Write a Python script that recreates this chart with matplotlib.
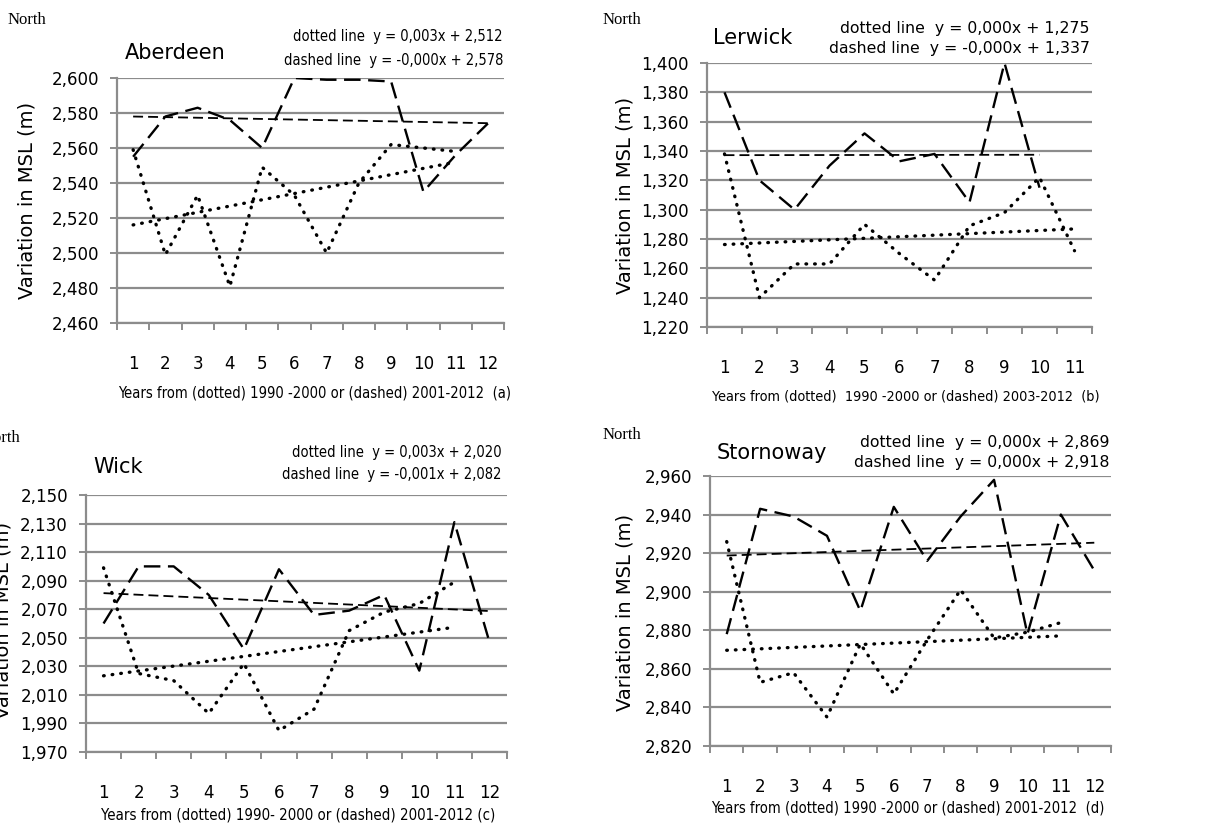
import matplotlib
matplotlib.use("Agg")
import matplotlib.pyplot as plt
import numpy as np

plt.rcParams['font.family'] = ['DejaVu Sans']

# Aberdeen (a)
abd_dotted = [2.559, 2.499, 2.533, 2.481, 2.549, 2.533, 2.500, 2.540, 2.562, 2.560, 2.558]
abd_dashed = [2.555, 2.578, 2.583, 2.576, 2.560, 2.600, 2.599, 2.599, 2.598, 2.535, 2.556, 2.574]
abd_ticks = [2.460, 2.600, 0.020]

# Lerwick (b)
ler_dotted = [1.338, 1.240, 1.263, 1.263, 1.290, 1.270, 1.252, 1.289, 1.298, 1.322, 1.272]
ler_dashed = [1.380, 1.320, 1.300, 1.330, 1.352, 1.333, 1.338, 1.305, 1.400, 1.315]
ler_ticks = [1.220, 1.400, 0.020]

# Wick (c)
wick_dotted = [2.099, 2.025, 2.020, 1.997, 2.032, 1.985, 2.000, 2.055, 2.068, 2.074, 2.089]
wick_dashed = [2.060, 2.100, 2.100, 2.080, 2.042, 2.098, 2.066, 2.069, 2.080, 2.027, 2.131, 2.047]
wick_ticks = [1.970, 2.150, 0.020]

# Stornoway (d)
sto_dotted = [2.926, 2.853, 2.858, 2.835, 2.873, 2.847, 2.875, 2.901, 2.876, 2.879, 2.884]
sto_dashed = [2.878, 2.943, 2.939, 2.929, 2.890, 2.944, 2.916, 2.939, 2.958, 2.878, 2.940, 2.911]
sto_ticks = [2.820, 2.960, 0.020]

W, H = 1212, 827
fig = plt.figure(figsize=(W / 100, H / 100), dpi=100)

GRID = '#8c8c8c'
# condensed look for the equation and axis-title texts
NARROW = dict(family='DejaVu Sans', fontstretch='condensed')


def px_axes(left, right, top, bottom):
    return fig.add_axes([left / W, 1 - bottom / H, (right - left) / W, (bottom - top) / H])


def ptext(x, y, s, **kw):
    # text placed in figure pixels, from the top-left corner
    return fig.text(x / W, 1 - y / H, s, **kw)


def panel(ax, dotted, dashed, ticks, ncat):
    lo, hi, step = ticks
    yt = np.arange(lo, hi + step / 2, step)
    ax.set_ylim(lo, hi)
    ax.set_xlim(0.5, ncat + 0.5)
    ax.set_yticks(yt)
    ax.set_yticklabels([f"{v:.3f}".replace('.', ',') for v in yt], fontsize=12)
    ax.yaxis.grid(True, color=GRID, lw=1.6)
    ax.set_axisbelow(True)
    for s in ['top', 'right']:
        ax.spines[s].set_visible(False)
    for s in ['left', 'bottom']:
        ax.spines[s].set_color(GRID)
        ax.spines[s].set_linewidth(1.6)
    ax.tick_params(axis='y', length=5, color=GRID, width=1.4, pad=8)
    # category ticks at boundaries, labels at centres
    ax.set_xticks(np.arange(0.5, ncat + 1, 1))
    ax.set_xticklabels([])
    ax.set_xticks(np.arange(1, ncat + 1), minor=True)
    ax.set_xticklabels([str(i) for i in range(1, ncat + 1)], minor=True, fontsize=12)
    ax.tick_params(axis='x', which='major', length=5, color=GRID, width=1.4)
    ax.tick_params(axis='x', which='minor', length=0, pad=23)

    xd = np.arange(1, len(dotted) + 1)
    xs = np.arange(1, len(dashed) + 1)
    ax.plot(xs, dashed, color='black', lw=1.7, dashes=(7, 3.2))
    ax.plot(xd, dotted, color='black', lw=2.4, dashes=(0.2, 2.4), dash_capstyle='round')
    # linear trend lines
    p = np.polyfit(xd, dotted, 1)
    ax.plot(xd, np.polyval(p, xd), color='black', lw=2.4, dashes=(0.2, 2.4), dash_capstyle='round')
    p = np.polyfit(xs, dashed, 1)
    ax.plot(xs, np.polyval(p, xs), color='black', lw=1.3, dashes=(5.5, 2.8))


ax1 = px_axes(117, 504, 78, 323)
panel(ax1, abd_dotted, abd_dashed, abd_ticks, 12)
ax2 = px_axes(707, 1092, 63, 327)
panel(ax2, ler_dotted, ler_dashed, ler_ticks, 11)
ax3 = px_axes(86, 507, 495, 752)
panel(ax3, wick_dotted, wick_dashed, wick_ticks, 12)
ax4 = px_axes(710, 1111, 476, 746)
panel(ax4, sto_dotted, sto_dashed, sto_ticks, 12)

# titles
ptext(125, 53, 'Aberdeen', fontsize=15, va='center')
ptext(713, 38, 'Lerwick', fontsize=15, va='center')
ptext(93, 467, 'Wick', fontsize=15, va='center')
ptext(717, 453, 'Stornoway', fontsize=15, va='center')

# trend equations
ptext(503, 36, 'dotted line  y = 0,003x + 2,512', fontsize=10.5, ha='right', va='center', **NARROW)
ptext(503, 60, 'dashed line  y = -0,000x + 2,578', fontsize=10.5, ha='right', va='center', **NARROW)
ptext(1090, 28, 'dotted line  y = 0,000x + 1,275', fontsize=11.3, ha='right', va='center')
ptext(1090, 49, 'dashed line  y = -0,000x + 1,337', fontsize=11.3, ha='right', va='center')
ptext(502, 452, 'dotted line  y = 0,003x + 2,020', fontsize=10.5, ha='right', va='center', **NARROW)
ptext(502, 475, 'dashed line  y = -0,001x + 2,082', fontsize=10.5, ha='right', va='center', **NARROW)
ptext(1110, 442, 'dotted line  y = 0,000x + 2,869', fontsize=11.3, ha='right', va='center')
ptext(1110, 462, 'dashed line  y = 0,000x + 2,918', fontsize=11.3, ha='right', va='center')

# x axis titles
ptext(315, 393, 'Years from (dotted) 1990 -2000 or (dashed) 2001-2012  (a)',
      fontsize=10.6, ha='center', va='center', **NARROW)
ptext(906, 397, 'Years from (dotted)  1990 -2000 or (dashed) 2003-2012  (b)',
      fontsize=10.4, ha='center', va='center', **NARROW)
ptext(298, 815, 'Years from (dotted) 1990- 2000 or (dashed) 2001-2012 (c)',
      fontsize=10.8, ha='center', va='center', **NARROW)
ptext(908, 808, 'Years from (dotted) 1990 -2000 or (dashed) 2001-2012  (d)',
      fontsize=10.6, ha='center', va='center', **NARROW)

# y axis titles
for x, y in [(27, 200), (625, 195), (3, 620), (625, 612)]:
    ptext(x, y, 'Variation in MSL (m)', fontsize=14, rotation=90, ha='center', va='center')

for x, y in [(8, 20), (603, 20), (-18, 438), (603, 435)]:
    ptext(x, y, 'North', fontsize=12, va='center', ha='left',
          family=['Liberation Serif', 'DejaVu Serif'])

fig.savefig('out.png', dpi=100)
